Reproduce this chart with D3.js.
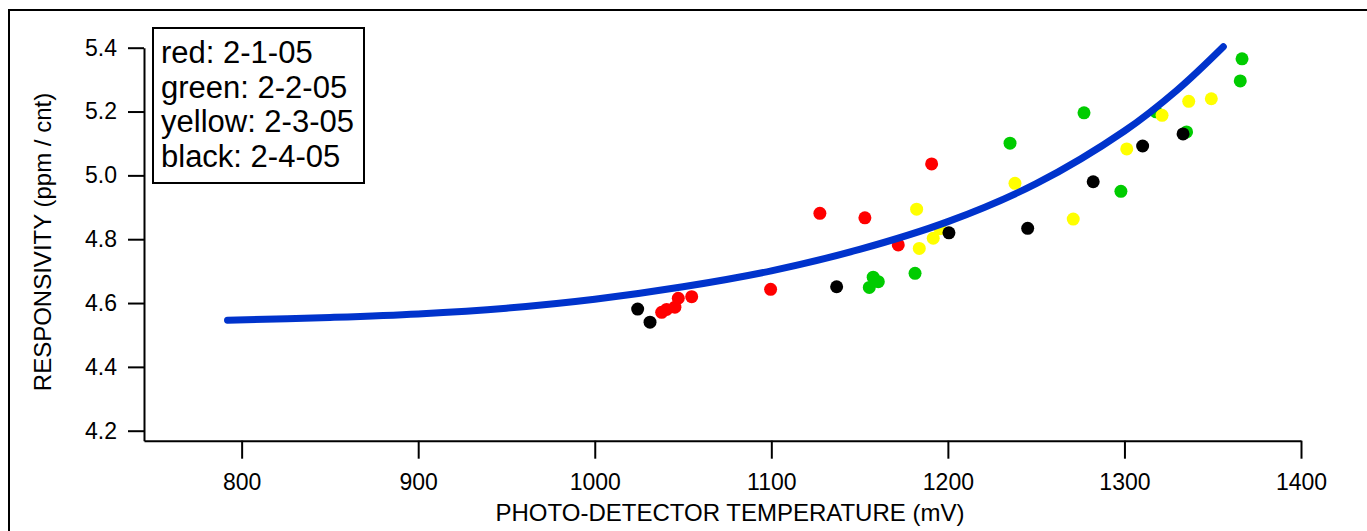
<!DOCTYPE html>
<html>
<head>
<meta charset="utf-8">
<script src="https://cdn.jsdelivr.net/npm/d3@7"></script>
<style>
  body { margin: 0; background: #fff; }
  svg { display: block; font-family: "Liberation Sans", Arial, Helvetica, sans-serif; }
</style>
</head>
<body>
<script>
// values
const redTemp = [1037.9, 1040.7, 1045.4, 1047.3, 1054.9, 1099.6, 1127.5, 1153.0, 1171.9, 1190.8];
const redResp = [4.571, 4.580, 4.587, 4.615, 4.620, 4.643, 4.881, 4.867, 4.782, 5.036];

const greenTemp = [1155.5, 1157.7, 1160.6, 1181.4, 1235.2, 1277.1, 1298.0, 1317.9, 1335.2, 1365.6, 1366.6];
const greenResp = [4.649, 4.681, 4.667, 4.693, 5.101, 5.196, 4.950, 5.199, 5.136, 5.296, 5.365];

const yellowTemp = [1182.3, 1183.8, 1191.7, 1195.5, 1238.0, 1271.0, 1301.3, 1321.3, 1336.4, 1349.2];
const yellowResp = [4.894, 4.771, 4.803, 4.833, 4.975, 4.863, 5.083, 5.188, 5.232, 5.240];

const blackTemp = [1024.3, 1031.3, 1137.0, 1200.6, 1245.2, 1282.3, 1310.3, 1333.2];
const blackResp = [4.581, 4.540, 4.651, 4.820, 4.834, 4.980, 5.092, 5.130];

// blue fitted curve
const fitTemp = [792, 850, 900, 950, 1000, 1050, 1100, 1150, 1200, 1250, 1300, 1330, 1356];
const fitResp = [4.546, 4.555, 4.566, 4.584, 4.612, 4.651, 4.701, 4.768, 4.855, 4.974, 5.139, 5.268, 5.403];

const xTicks = [800, 900, 1000, 1100, 1200, 1300, 1400];
const yTicks = [4.2, 4.4, 4.6, 4.8, 5.0, 5.2, 5.4];

const legendLines = ['red: 2-1-05', 'green: 2-2-05', 'yellow: 2-3-05', 'black: 2-4-05'];

const width = 1367;
const height = 531;

const svg = d3.select('body')
  .append('svg')
    .attr('width', width)
    .attr('height', height);

// outer frame (runs off the right and bottom edges)
svg.append('rect')
  .attr('x', 9)
  .attr('y', 10)
  .attr('width', 1500)
  .attr('height', 700)
  .attr('fill', 'none')
  .attr('stroke', '#000')
  .attr('stroke-width', 2);

const x = d3.scaleLinear()
  .domain([744.7, 1400])
  .range([144, 1301]);

const y = d3.scaleLinear()
  .domain([4.1687, 5.4])
  .range([440.7, 47.7]);

const xAxis = svg.append('g')
  .attr('transform', `translate(0,${y.range()[0]})`)
  .call(d3.axisBottom(x)
    .tickValues(xTicks)
    .tickFormat(d3.format('d'))
    .tickSize(18)
    .tickSizeOuter(0)
    .tickPadding(15));

const yAxis = svg.append('g')
  .attr('transform', `translate(${x.range()[0]},0)`)
  .call(d3.axisLeft(y)
    .tickValues(yTicks)
    .tickFormat(d3.format('.1f'))
    .tickSize(16)
    .tickSizeOuter(0)
    .tickPadding(11));

[xAxis, yAxis].forEach(g => {
  g.selectAll('path, line')
    .attr('stroke', '#000')
    .attr('stroke-width', 2);
  g.selectAll('text')
    .attr('fill', '#000')
    .style('font-size', '23px');
});

// axis titles
svg.append('text')
  .attr('x', 730)
  .attr('y', 521)
  .attr('text-anchor', 'middle')
  .style('font-size', '24px')
  .text('PHOTO-DETECTOR TEMPERATURE (mV)');

svg.append('text')
  .attr('transform', 'translate(51,242) rotate(-90)')
  .attr('text-anchor', 'middle')
  .style('font-size', '24px')
  .text('RESPONSIVITY (ppm / cnt)');

// scatter points, drawn in the overlap order seen in the picture
const series = [
  { temp: greenTemp, resp: greenResp, color: '#00cc00' },
  { temp: yellowTemp, resp: yellowResp, color: '#ffff00' },
  { temp: blackTemp, resp: blackResp, color: '#000000' },
  { temp: redTemp, resp: redResp, color: '#ff0000' }
];

series.forEach(s => {
  svg.append('g')
    .selectAll('circle')
      .data(s.temp.map((t, i) => [t, s.resp[i]]))
      .enter()
        .append('circle')
          .attr('cx', d => x(d[0]))
          .attr('cy', d => y(d[1]))
          .attr('r', 6.5)
          .attr('fill', s.color);
});

// fitted curve on top
const line = d3.line()
  .x(d => x(d[0]))
  .y(d => y(d[1]))
  .curve(d3.curveCatmullRom);

svg.append('path')
  .datum(fitTemp.map((t, i) => [t, fitResp[i]]))
  .attr('d', line)
  .attr('fill', 'none')
  .attr('stroke', '#0033cc')
  .attr('stroke-width', 7)
  .attr('stroke-linecap', 'round');

// legend box
svg.append('rect')
  .attr('x', 153)
  .attr('y', 28)
  .attr('width', 211)
  .attr('height', 155)
  .attr('fill', '#fff')
  .attr('stroke', '#000')
  .attr('stroke-width', 2);

svg.append('g')
  .selectAll('text')
    .data(legendLines)
    .enter()
      .append('text')
        .attr('x', 161)
        .attr('y', (d, i) => 63 + i * 34.7)
        .style('font-size', '31px')
        .text(d => d);
</script>
</body>
</html>
